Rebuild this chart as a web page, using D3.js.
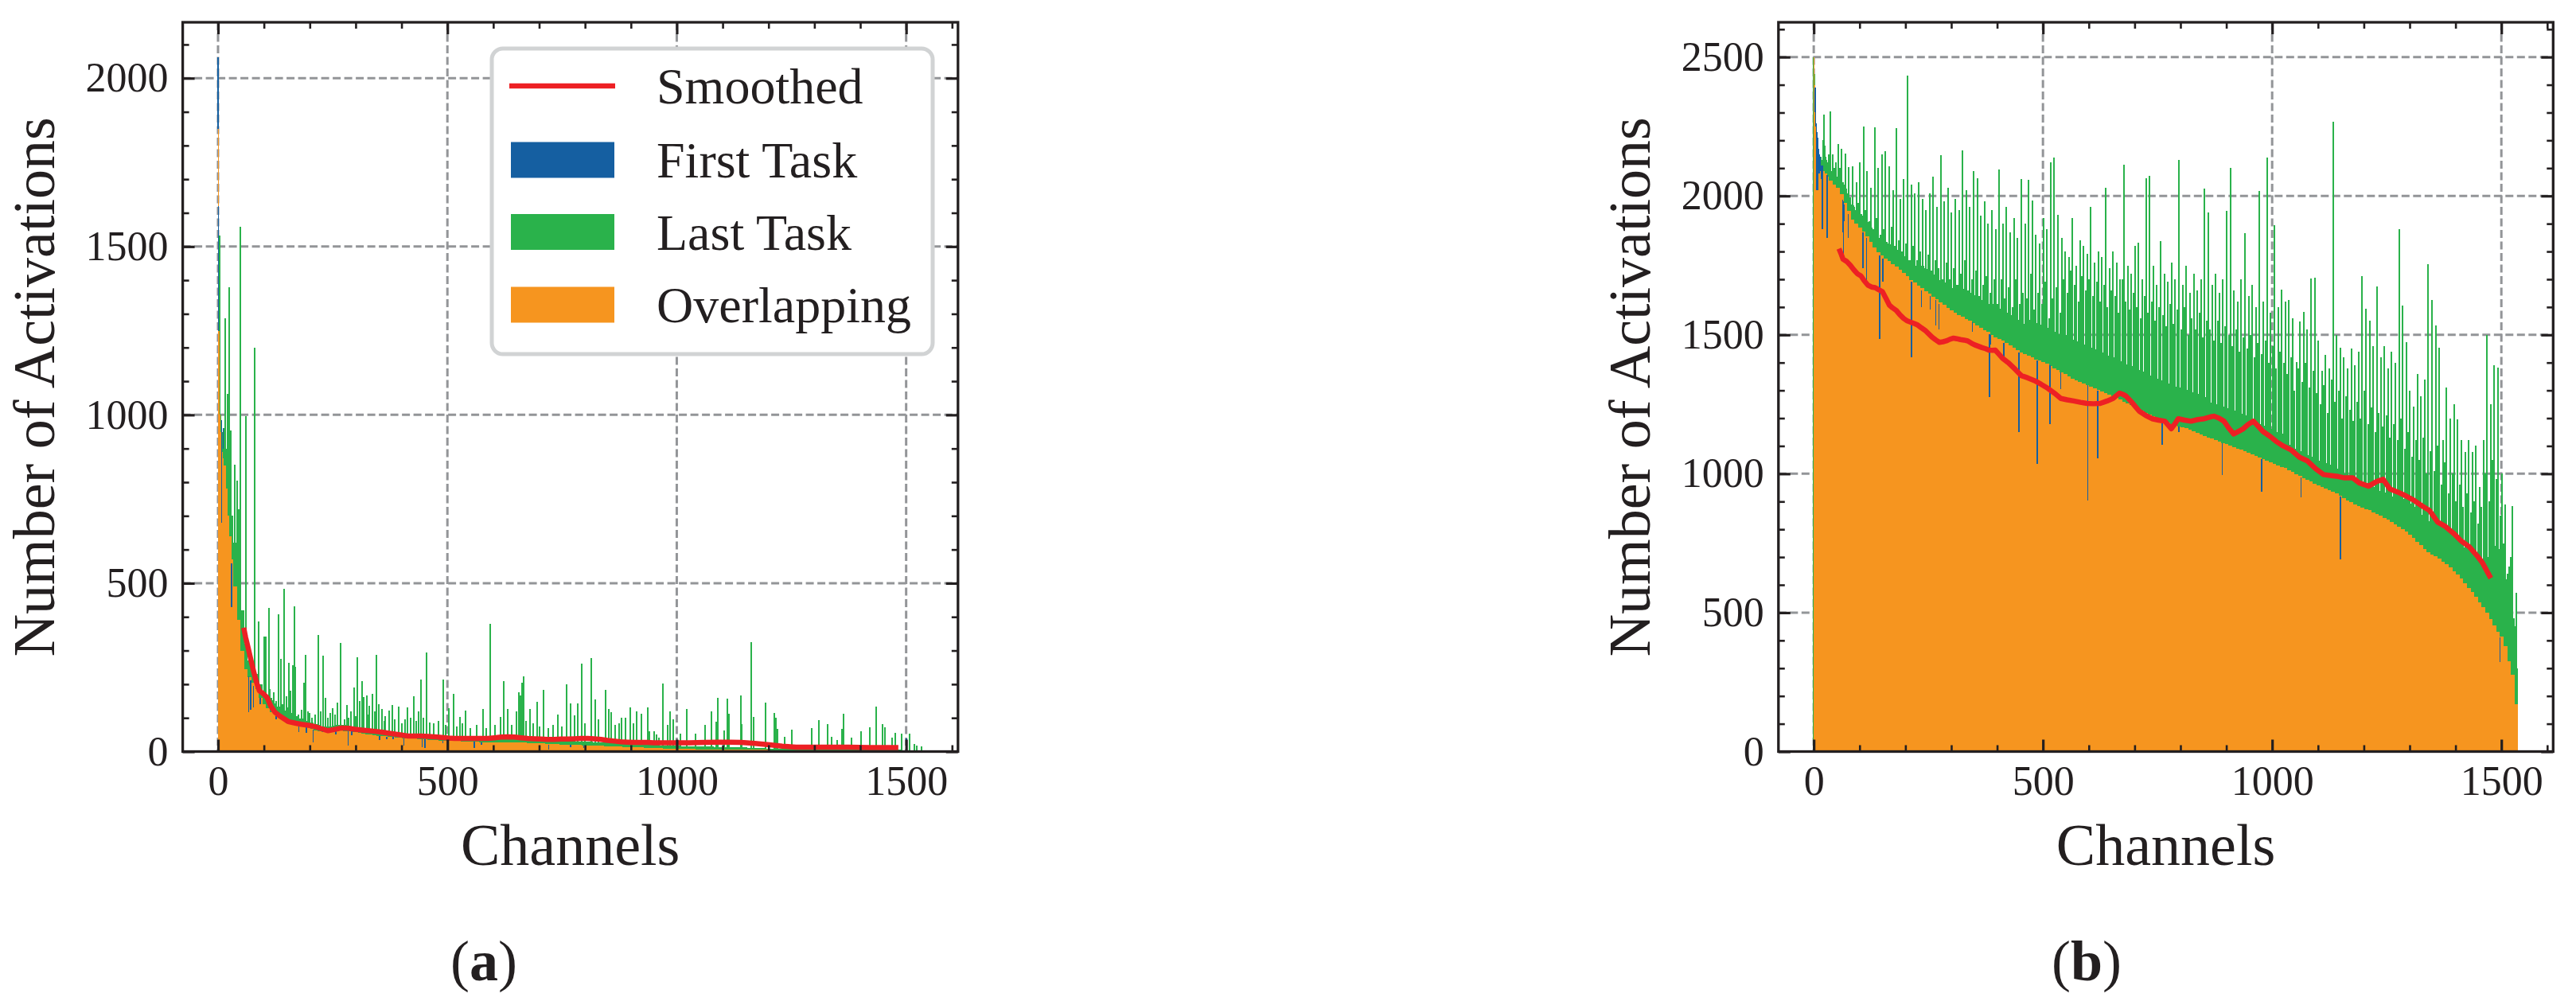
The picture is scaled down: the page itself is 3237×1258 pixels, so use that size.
<!DOCTYPE html>
<html>
<head>
<meta charset="utf-8">
<script src="https://cdn.jsdelivr.net/npm/d3@7"></script>
<style>
  body { margin: 0; background: #fff; }
  svg text { font-family: "Liberation Serif", "Times New Roman", serif; fill: #231f20; }
</style>
</head>
<body>
<script>
// ---- data ----
// channel bins: fine at the start, then 8 channels per bin
const binEdges = [0, 1, 2, 3, 4, 6, 8, 10, 12, 16, 20, 24, 28, 32, 40, 48, 56].concat(d3.range(64, 1537, 8));

const xTicks = [0, 500, 1000, 1500];
const yTicksA = [0, 500, 1000, 1500, 2000];
const yTicksB = [0, 500, 1000, 1500, 2000, 2500];
const legendLabels = ["Smoothed", "First Task", "Last Task", "Overlapping"];

// (a) overlapping activations per bin
const overlapA = [
  1850, 1250, 1050, 1000, 950, 920, 890, 870, 850, 780, 700, 640, 570, 490, 390, 300, 245,
  222, 205, 185, 160, 140, 128, 118, 110, 105, 101,
  98, 92, 88, 85, 81, 78, 74, 68, 63, 61,
  59, 58, 58, 59, 61, 62, 61, 60, 58, 57,
  55, 53, 51, 50, 48, 47, 46, 45, 44, 43,
  42, 41, 40, 39, 38, 38, 37, 37, 36, 35,
  34, 34, 33, 33, 32, 32, 31, 31, 30, 30,
  29, 29, 29, 28, 28, 28, 27, 27, 27, 27,
  26, 26, 26, 26, 26, 26, 25, 25, 25, 24,
  24, 23, 23, 22, 22, 21, 21, 20, 20, 19,
  19, 18, 18, 18, 17, 17, 17, 16, 16, 16,
  15, 15, 14, 14, 13, 13, 12, 12, 11, 11,
  10, 10, 10, 9, 9, 9, 9, 8, 8, 8,
  8, 8, 7, 7, 7, 7, 7, 6, 6, 6,
  6, 6, 6, 6, 5, 5, 5, 5, 5, 5,
  5, 5, 4, 4, 4, 4, 4, 4, 4, 4,
  4, 4, 4, 3, 3, 3, 3, 3, 3, 3,
  3, 3, 3, 3, 3, 3, 3, 2, 2, 2,
  2, 2, 2, 2, 2, 2, 2, 2, 2, 1,
  1, 1, 1, 1
];
// (a) last task, dense lower band per bin
const lastBaseA = [
  1850, 1250, 1100, 1050, 1000, 960, 950, 950, 960, 900, 900, 860, 700, 620, 520, 420, 320,
  270, 250, 230, 200, 180, 165, 152, 142, 134, 128,
  122, 114, 108, 104, 99, 95, 91, 86, 81, 78,
  75, 74, 74, 76, 78, 80, 79, 77, 75, 73,
  71, 69, 66, 65, 63, 62, 60, 59, 57, 56,
  55, 54, 53, 52, 51, 50, 50, 49, 48, 47,
  46, 45, 45, 44, 43, 43, 42, 42, 41, 41,
  40, 40, 40, 39, 39, 39, 38, 38, 38, 38,
  37, 37, 37, 37, 37, 36, 36, 36, 35, 35,
  35, 34, 34, 33, 33, 32, 32, 31, 31, 30,
  30, 29, 29, 29, 28, 28, 28, 27, 27, 26,
  24, 24, 23, 23, 22, 22, 21, 21, 20, 20,
  19, 19, 18, 18, 18, 17, 17, 17, 16, 16,
  16, 16, 15, 15, 15, 15, 15, 14, 14, 14,
  14, 14, 13, 13, 12, 12, 11, 11, 10, 10,
  10, 9, 9, 9, 9, 8, 8, 8, 8, 8,
  8, 8, 8, 7, 7, 7, 7, 7, 7, 7,
  7, 7, 7, 7, 6, 6, 6, 6, 6, 6,
  6, 6, 5, 5, 5, 5, 5, 5, 4, 4,
  4, 3, 3, 2
];
// (a) last task single-channel spikes [channel, value]
const spikesA = [
  [4, 1533], [15, 1287], [20, 1063], [24, 1379], [27, 954], [36, 853], [41, 805], [45, 720], [49, 1558],
  [60, 996], [80, 1200], [88, 387], [100, 342], [104, 342], [111, 426], [113, 185], [116, 160], [121, 176],
  [126, 150], [131, 408], [137, 275], [140, 140], [144, 484], [149, 164], [152, 130], [155, 263], [158, 180],
  [163, 257], [166, 432], [169, 251], [175, 110], [182, 125], [187, 204], [190, 287], [196, 120], [200, 115],
  [205, 100], [211, 111], [218, 346], [223, 120], [229, 285], [234, 160], [240, 100], [245, 115], [249, 129],
  [255, 110], [260, 145], [268, 322], [275, 95], [281, 138], [285, 100], [290, 120], [296, 190], [300, 105],
  [304, 280], [308, 150], [314, 210], [318, 162], [324, 167], [326, 110], [330, 137], [337, 171], [341, 120],
  [346, 287], [350, 140], [357, 126], [362, 90], [365, 105], [373, 121], [380, 139], [385, 95], [393, 133],
  [400, 85], [408, 95], [413, 130], [420, 100], [426, 164], [432, 90], [437, 120], [443, 214], [448, 100],
  [455, 294], [461, 86], [470, 85], [480, 90], [491, 214], [497, 80], [503, 129], [514, 171], [520, 75],
  [527, 103], [533, 85], [539, 122], [550, 70], [563, 80], [578, 126], [585, 70], [593, 379], [603, 80],
  [615, 103], [623, 209], [631, 126], [640, 80], [650, 119], [655, 176], [659, 166], [663, 204], [666, 223],
  [672, 90], [680, 126], [687, 85], [695, 148], [700, 75], [709, 184], [720, 70], [730, 80], [741, 109],
  [750, 75], [760, 200], [768, 143], [777, 107], [784, 143], [793, 261], [800, 85], [814, 278], [823, 155],
  [830, 95], [844, 184], [851, 126], [857, 117], [865, 80], [874, 83], [880, 100], [888, 101], [898, 131],
  [905, 85], [913, 119], [923, 113], [936, 131], [941, 60], [950, 60], [956, 50], [961, 42], [970, 202],
  [980, 79], [986, 119], [993, 96], [1008, 53], [1021, 126], [1041, 53], [1061, 79], [1076, 119], [1086, 89],
  [1090, 160], [1104, 62], [1111, 158], [1114, 113], [1139, 167], [1142, 81], [1163, 325], [1168, 103],
  [1193, 145], [1212, 115], [1216, 101], [1220, 67], [1236, 44], [1250, 65], [1295, 70], [1310, 93],
  [1328, 81], [1338, 44], [1349, 34], [1360, 67], [1363, 112], [1381, 41], [1401, 60], [1420, 72],
  [1434, 133], [1449, 81], [1454, 72], [1469, 41], [1476, 56], [1490, 53], [1501, 34], [1508, 53],
  [1518, 22], [1524, 18], [1534, 15]
];
// (a) first task where it rises above the overlap [channel, first task, overlap]
const firstA = [
  [0, 2063, 1850], [1, 1620, 1250], [8, 985, 680], [11, 960, 900], [29, 560, 430], [67, 223, 117],
  [71, 212, 125], [77, 195, 130], [92, 160, 140], [127, 106, 95], [148, 98, 85], [176, 78, 58],
  [193, 74, 55], [207, 66, 27], [257, 60, 50], [284, 60, 17], [291, 60, 48], [352, 47, 34], [368, 44, 36],
  [382, 43, 36], [405, 40, 17], [445, 37, 14], [451, 36, 10], [490, 33, 25], [559, 29, 10], [574, 28, 20],
  [721, 20, 7], [768, 20, 12], [797, 18, 10], [1501, 38, 3]
];
// (a) smoothed curve [channel, value]
const smoothA = [
  [56, 368], [60, 340], [66, 306], [72, 270], [78, 236], [84, 205], [90, 181], [100, 170], [107, 160],
  [115, 135], [124, 117], [135, 105], [153, 89], [170, 84], [182, 81], [197, 78], [211, 74], [225, 68],
  [240, 62], [255, 66], [269, 70], [284, 69], [298, 66], [313, 64], [327, 62], [342, 60], [356, 58],
  [370, 55], [385, 52], [400, 49], [414, 46], [428, 46], [443, 46], [458, 45], [472, 44], [487, 42],
  [501, 40], [516, 39], [530, 39], [545, 39], [559, 39], [574, 39], [588, 39], [603, 41], [617, 43],
  [632, 44], [646, 43], [660, 41], [675, 39], [690, 38], [704, 37], [718, 36], [733, 36], [748, 37],
  [762, 37], [777, 38], [791, 39], [806, 39], [820, 38], [835, 36], [849, 33], [864, 31], [878, 29],
  [893, 28], [907, 27], [922, 27], [936, 27], [950, 26], [965, 26], [1000, 26], [1028, 26], [1060, 27],
  [1090, 28], [1115, 28], [1140, 27], [1170, 24], [1202, 20], [1230, 16], [1260, 13], [1300, 13],
  [1340, 13], [1376, 13], [1420, 12], [1450, 12], [1483, 12]
];

// (b) overlapping activations per bin
const overlapB = [
  2500, 2400, 2330, 2290, 2250, 2200, 2150, 2120, 2100, 2095, 2088, 2080, 2070, 2055, 2040, 2030, 2005,
  1975, 1945, 1915, 1900, 1885, 1872, 1855, 1835, 1815, 1798,
  1785, 1775, 1765, 1755, 1745, 1735, 1722, 1710, 1698, 1688,
  1678, 1668, 1658, 1648, 1638, 1628, 1618, 1608, 1598, 1588,
  1580, 1572, 1565, 1557, 1550, 1542, 1534, 1526, 1518, 1510,
  1500, 1492, 1485, 1478, 1471, 1462, 1453, 1444, 1437, 1430,
  1424, 1418, 1412, 1407, 1402, 1396, 1388, 1380, 1372, 1365,
  1358, 1350, 1343, 1336, 1330, 1324, 1320, 1314, 1308, 1302,
  1296, 1290, 1284, 1278, 1272, 1266, 1260, 1254, 1248, 1240,
  1233, 1227, 1220, 1214, 1208, 1202, 1196, 1190, 1184, 1178,
  1173, 1169, 1166, 1163, 1158, 1152, 1147, 1142, 1136, 1131,
  1126, 1121, 1116, 1111, 1106, 1101, 1096, 1091, 1086, 1080,
  1075, 1069, 1064, 1058, 1053, 1047, 1041, 1036, 1030, 1025,
  1020, 1013, 1006, 999, 992, 985, 978, 971, 964, 957,
  952, 948, 942, 936, 928, 920, 912, 904, 897, 890,
  884, 878, 873, 868, 862, 856, 849, 842, 835, 827,
  819, 810, 800, 791, 781, 770, 756, 742, 728, 718,
  710, 702, 694, 684, 674, 663, 650, 636, 622, 605,
  590, 574, 557, 538, 520, 500, 478, 455, 432, 415,
  380, 325, 275, 170
];
// (b) last task, dense lower band per bin
const lastBaseB = [
  2500, 2420, 2350, 2300, 2260, 2230, 2180, 2150, 2140, 2130, 2120, 2110, 2100, 2090, 2080, 2070, 2050,
  2025, 1995, 1965, 1950, 1935, 1922, 1905, 1885, 1865, 1848,
  1845, 1835, 1825, 1815, 1805, 1795, 1782, 1770, 1758, 1748,
  1758, 1748, 1738, 1728, 1718, 1708, 1698, 1688, 1678, 1668,
  1680, 1672, 1665, 1657, 1650, 1642, 1634, 1626, 1618, 1610,
  1610, 1602, 1595, 1588, 1581, 1572, 1563, 1554, 1547, 1540,
  1554, 1548, 1542, 1537, 1532, 1526, 1518, 1510, 1502, 1495,
  1498, 1490, 1483, 1476, 1470, 1464, 1460, 1454, 1448, 1442,
  1436, 1430, 1424, 1418, 1412, 1406, 1400, 1394, 1388, 1380,
  1373, 1367, 1360, 1354, 1348, 1342, 1336, 1330, 1324, 1318,
  1313, 1309, 1306, 1303, 1298, 1292, 1287, 1282, 1276, 1271,
  1256, 1251, 1246, 1241, 1236, 1231, 1226, 1221, 1216, 1210,
  1195, 1189, 1184, 1178, 1173, 1167, 1161, 1156, 1150, 1145,
  1110, 1103, 1096, 1089, 1082, 1075, 1068, 1061, 1054, 1047,
  1042, 1038, 1032, 1026, 1018, 1010, 1002, 994, 987, 980,
  974, 968, 963, 958, 952, 946, 939, 932, 925, 917,
  929, 920, 910, 901, 891, 880, 866, 852, 838, 828,
  840, 832, 824, 814, 804, 793, 780, 766, 752, 735,
  740, 724, 707, 690, 690, 700, 720, 740, 730, 700,
  620, 560, 480, 300
];
// (b) last task, tallest spike in each bin
const lastPeakB = [
  2500, 2440, 2380, 2300, 2260, 2230, 2180, 2150, 2140, 2110, 2292, 2140, 2120, 2304, 2100, 2186, 2170,
  2153, 2105, 2108, 2050, 2120, 2251, 2090, 2030, 2248, 2101,
  2149, 2162, 2107, 2020, 2245, 1990, 2060, 2432, 2040, 2010,
  2050, 1990, 1950, 2010, 2070, 1960, 2146, 1980, 2030, 1940,
  1990, 1950, 2165, 2020, 1960, 2090, 2063, 1930, 1980, 1900,
  1950, 1880, 2094, 1900, 1960, 1870, 1920, 1850, 2062, 1900,
  2059, 1984, 1860, 1830, 1920, 1880, 2122, 2139, 1931, 1850,
  1800, 1780, 1921, 1750, 1841, 1820, 1792, 1960, 1760, 1800,
  1780, 2029, 1740, 1800, 1760, 1700, 2111, 1750, 1720, 1820,
  1831, 1700, 2063, 2073, 1750, 1680, 1836, 1720, 1690, 1760,
  1700, 2130, 1680, 1750, 1650, 1720, 1660, 1700, 2025, 1941,
  1680, 1720, 1650, 1700, 1946, 2101, 1660, 1620, 1700, 1866,
  1640, 1680, 1600, 2017, 1620, 2139, 1580, 1894, 1600, 1664,
  1620, 1626, 1560, 1403, 1548, 1582, 1520, 1703, 1707, 1480,
  1370, 1428, 1380, 2268, 1500, 1453, 1420, 1380, 1450, 1390,
  1440, 1710, 1593, 1550, 1460, 1674, 1420, 1460, 1380, 1440,
  1400, 1881, 1606, 1475, 1300, 1243, 1360, 1280, 1338, 1753,
  1625, 1534, 1454, 1120, 1311, 1200, 1250, 1197, 1120, 1078,
  1120, 1078, 1100, 952, 1120, 1499, 1250, 1391, 1383, 1000,
  890, 667, 885, 571
];
// (b) last task, second spike in each bin
const lastMidB = [
  2500, 2420, 2350, 2300, 2260, 2230, 2180, 2150, 2140, 2130, 2200, 2180, 2130, 2150, 2150, 2120, 2100,
  2040, 2010, 1970, 1960, 1975, 1930, 1950, 1910, 1880, 1920,
  1860, 1880, 1830, 1890, 1820, 1840, 1800, 1830, 1770, 1820,
  1770, 1800, 1740, 1790, 1730, 1770, 1740, 1700, 1760, 1700,
  1740, 1680, 1720, 1770, 1660, 1700, 1730, 1640, 1680, 1710,
  1650, 1700, 1610, 1700, 1630, 1670, 1600, 1700, 1610, 1650,
  1630, 1720, 1590, 1650, 1610, 1690, 1560, 1630, 1670, 1580,
  1700, 1650, 1730, 1680, 1620, 1710, 1660, 1700, 1640, 1690,
  1620, 1680, 1600, 1660, 1640, 1580, 1700, 1620, 1590, 1650,
  1600, 1560, 1640, 1580, 1620, 1550, 1600, 1570, 1530, 1610,
  1540, 1590, 1520, 1600, 1500, 1560, 1520, 1580, 1490, 1550,
  1520, 1480, 1550, 1470, 1530, 1500, 1460, 1520, 1440, 1490,
  1450, 1500, 1420, 1470, 1430, 1480, 1400, 1460, 1380, 1440,
  1400, 1360, 1420, 1300, 1380, 1330, 1400, 1310, 1370, 1290,
  1250, 1320, 1220, 1340, 1260, 1300, 1200, 1280, 1230, 1190,
  1260, 1200, 1300, 1180, 1240, 1150, 1220, 1170, 1210, 1130,
  1180, 1120, 1200, 1090, 1150, 1060, 1120, 1050, 1130, 1000,
  1080, 1010, 1100, 960, 1040, 930, 1000, 900, 960, 880,
  930, 860, 900, 820, 880, 1000, 900, 1050, 980, 850,
  750, 640, 700, 450
];
// (b) first task where it rises above the overlap [channel, first task, overlap]
const firstB = [
  [3, 2390, 2300], [4, 2380, 2250], [6, 2260, 2200], [7, 2230, 2020], [8, 2210, 2050], [9, 2200, 2020],
  [11, 2170, 2100], [12, 2150, 2080], [14, 2140, 2090], [17, 2110, 2060], [19, 2110, 1880], [29, 2075, 1850],
  [63, 1985, 1870], [64, 1980, 1870], [65, 1975, 1788], [66, 1970, 1910], [75, 1935, 1850], [107, 1870, 1740],
  [115, 1850, 1690], [144, 1785, 1485], [151, 1775, 1690], [213, 1692, 1418], [214, 1690, 1500],
  [235, 1660, 1600], [254, 1640, 1590], [266, 1625, 1535], [273, 1610, 1520], [346, 1545, 1510],
  [383, 1502, 1276], [385, 1500, 1465], [415, 1472, 1418], [448, 1437, 1150], [488, 1407, 1035],
  [515, 1390, 1180], [539, 1366, 1306], [598, 1318, 904], [620, 1300, 1055], [760, 1190, 1105],
  [797, 1169, 1150], [891, 1111, 994], [977, 1053, 934], [1063, 987, 914], [1149, 918, 693], [1497, 412, 322]
];
// (b) smoothed curve [channel, value]
const smoothB = [
  [55, 1810], [60, 1790], [64, 1772], [72, 1764], [80, 1750], [87, 1735], [95, 1720], [103, 1712],
  [110, 1695], [118, 1679], [126, 1672], [134, 1670], [142, 1662], [150, 1655], [158, 1630], [165, 1607],
  [172, 1597], [180, 1588], [188, 1572], [196, 1559], [204, 1550], [212, 1545], [220, 1540], [227, 1535],
  [235, 1525], [243, 1516], [250, 1505], [258, 1492], [266, 1482], [274, 1473], [282, 1475], [289, 1478],
  [297, 1484], [305, 1488], [312, 1486], [320, 1483], [328, 1481], [336, 1478], [344, 1470], [351, 1464],
  [359, 1459], [367, 1454], [375, 1450], [382, 1445], [390, 1444], [396, 1445], [404, 1430], [412, 1415],
  [425, 1399], [440, 1375], [453, 1353], [467, 1345], [482, 1335], [496, 1322], [510, 1308], [525, 1290],
  [539, 1271], [553, 1266], [567, 1262], [582, 1257], [596, 1253], [610, 1252], [625, 1253], [640, 1262],
  [653, 1271], [667, 1290], [674, 1286], [681, 1280], [695, 1255], [710, 1225], [724, 1210], [738, 1198],
  [752, 1193], [766, 1189], [780, 1162], [788, 1180], [795, 1198], [809, 1193], [823, 1189], [838, 1195],
  [852, 1198], [866, 1205], [873, 1207], [884, 1200], [895, 1189], [905, 1165], [916, 1143], [926, 1152],
  [937, 1162], [948, 1178], [959, 1189], [970, 1170], [980, 1152], [995, 1135], [1009, 1116], [1024, 1100],
  [1042, 1085], [1060, 1059], [1077, 1046], [1095, 1018], [1112, 997], [1129, 993], [1144, 990],
  [1158, 985], [1176, 985], [1190, 967], [1210, 955], [1228, 972], [1242, 980], [1257, 945], [1274, 934],
  [1292, 920], [1309, 905], [1326, 885], [1343, 868], [1361, 826], [1378, 810], [1396, 785], [1413, 757],
  [1430, 737], [1448, 703], [1459, 679], [1471, 642], [1477, 624]
];

// ---- drawing ----
const colors = { first: "#155fa1", last: "#2ab24b", overlap: "#f6951f", smooth: "#ed2024" };
const ink = "#231f20";

const svg = d3.select("body").append("svg")
  .attr("width", 3237)
  .attr("height", 1258);

const plotTop = 28, plotBottom = 944.5;

const panels = [
  { left: 229.6, right: 1203.8, yMax: 2166, yTicks: yTicksA, overlap: overlapA, base: lastBaseA,
    spikes: spikesA, first: firstA, smooth: smoothA, labelX: 68, tag: "a", tagX: 608, legend: true },
  { left: 2234.8, right: 3208.3, yMax: 2625, yTicks: yTicksB, overlap: overlapB, base: lastBaseB,
    peaks: [lastMidB, lastPeakB], first: firstB, smooth: smoothB, labelX: 2073, tag: "b", tagX: 2622, legend: false }
];

panels.forEach(p => {
  const x = d3.scaleLinear().domain([-77, 1613]).range([p.left, p.right]);
  const y = d3.scaleLinear().domain([0, p.yMax]).range([plotBottom, plotTop]);
  const g = svg.append("g");

  // grid below the bars
  const grid = g.append("g")
    .attr("stroke", "#939598")
    .attr("stroke-width", 3)
    .attr("stroke-dasharray", "10,4.5");
  grid.selectAll(".gx").data(xTicks).join("line")
    .attr("x1", d => x(d)).attr("x2", d => x(d))
    .attr("y1", plotTop).attr("y2", plotBottom);
  grid.selectAll(".gy").data(p.yTicks.filter(d => d > 0)).join("line")
    .attr("x1", p.left).attr("x2", p.right)
    .attr("y1", d => y(d)).attr("y2", d => y(d));

  const binX = i => x(binEdges[i] - 0.5);
  const binW = i => x(binEdges[i + 1] - 0.5) - x(binEdges[i] - 0.5);

  // last task: dense band
  g.append("g").attr("shape-rendering", "crispEdges")
    .selectAll("rect").data(p.base).join("rect")
    .attr("x", (d, i) => binX(i))
    .attr("width", (d, i) => binW(i) + 0.8)
    .attr("y", d => y(d))
    .attr("height", d => plotBottom - y(d))
    .attr("fill", colors.last);

  // last task: spikes
  let spikeList;
  if (p.spikes) {
    spikeList = p.spikes;
  } else {
    spikeList = [];
    p.peaks.forEach((arr, k) => arr.forEach((v, i) => {
      const w = binEdges[i + 1] - binEdges[i];
      spikeList.push([binEdges[i] + w * (k === 0 ? 0.2 : 0.65) - 0.5, v]);
    }));
  }
  g.append("g").attr("shape-rendering", "crispEdges")
    .selectAll("rect").data(spikeList).join("rect")
    .attr("x", d => x(d[0]) - 1)
    .attr("width", 2)
    .attr("y", d => y(d[1]))
    .attr("height", d => plotBottom - y(d[1]))
    .attr("fill", colors.last);

  // overlapping
  g.append("g").attr("shape-rendering", "crispEdges")
    .selectAll("rect").data(p.overlap).join("rect")
    .attr("x", (d, i) => binX(i))
    .attr("width", (d, i) => binW(i) + 0.8)
    .attr("y", d => y(d))
    .attr("height", d => plotBottom - y(d))
    .attr("fill", colors.overlap);

  // first task above the overlap
  g.append("g").attr("shape-rendering", "crispEdges")
    .selectAll("rect").data(p.first).join("rect")
    .attr("x", d => x(d[0]) - 0.8)
    .attr("width", 1.6)
    .attr("y", d => y(d[1]))
    .attr("height", d => y(d[2]) - y(d[1]))
    .attr("fill", colors.first);

  // smoothed
  g.append("path")
    .datum(p.smooth)
    .attr("d", d3.line().x(d => x(d[0])).y(d => y(d[1])))
    .attr("fill", "none")
    .attr("stroke", colors.smooth)
    .attr("stroke-width", 6.5)
    .attr("stroke-linejoin", "round");

  // frame
  g.append("rect")
    .attr("x", p.left).attr("y", plotTop)
    .attr("width", p.right - p.left).attr("height", plotBottom - plotTop)
    .attr("fill", "none").attr("stroke", ink).attr("stroke-width", 3.3);

  // ticks, inward on all sides
  const xMinor = d3.range(100, 1613, 100).filter(d => d % 500 !== 0);
  const yMinor = d3.range(100, p.yMax, 100).filter(d => d % 500 !== 0);
  const styleAxis = sel => {
    sel.select(".domain").remove();
    sel.attr("font-family", null).attr("font-size", 52).attr("color", ink);
    sel.selectAll(".tick line").attr("stroke-width", 3.2);
  };
  const styleMinor = sel => {
    sel.select(".domain").remove();
    sel.attr("color", ink);
    sel.selectAll(".tick line").attr("stroke-width", 2.6);
  };
  const fmt = d3.format("d");

  g.append("g").attr("transform", `translate(0,${plotBottom})`)
    .call(d3.axisBottom(x).tickValues(xTicks).tickFormat(fmt).tickSizeInner(-15).tickSizeOuter(0).tickPadding(18))
    .call(styleAxis);
  g.append("g").attr("transform", `translate(0,${plotBottom})`)
    .call(d3.axisBottom(x).tickValues(xMinor).tickSizeInner(-8).tickSizeOuter(0).tickFormat(""))
    .call(styleMinor);
  g.append("g").attr("transform", `translate(0,${plotTop})`)
    .call(d3.axisTop(x).tickValues(xTicks).tickSizeInner(-15).tickSizeOuter(0).tickFormat(""))
    .call(styleMinor).selectAll(".tick line").attr("stroke-width", 3.2);
  g.append("g").attr("transform", `translate(0,${plotTop})`)
    .call(d3.axisTop(x).tickValues(xMinor).tickSizeInner(-8).tickSizeOuter(0).tickFormat(""))
    .call(styleMinor);

  g.append("g").attr("transform", `translate(${p.left},0)`)
    .call(d3.axisLeft(y).tickValues(p.yTicks).tickFormat(fmt).tickSizeInner(-15).tickSizeOuter(0).tickPadding(18))
    .call(styleAxis);
  g.append("g").attr("transform", `translate(${p.left},0)`)
    .call(d3.axisLeft(y).tickValues(yMinor).tickSizeInner(-8).tickSizeOuter(0).tickFormat(""))
    .call(styleMinor);
  g.append("g").attr("transform", `translate(${p.right},0)`)
    .call(d3.axisRight(y).tickValues(p.yTicks).tickSizeInner(-15).tickSizeOuter(0).tickFormat(""))
    .call(styleMinor).selectAll(".tick line").attr("stroke-width", 3.2);
  g.append("g").attr("transform", `translate(${p.right},0)`)
    .call(d3.axisRight(y).tickValues(yMinor).tickSizeInner(-8).tickSizeOuter(0).tickFormat(""))
    .call(styleMinor);

  // axis labels
  g.append("text")
    .attr("transform", `translate(${p.labelX},${(plotTop + plotBottom) / 2}) rotate(-90)`)
    .attr("text-anchor", "middle")
    .attr("font-size", 74)
    .text("Number of Activations");
  g.append("text")
    .attr("x", (p.left + p.right) / 2)
    .attr("y", 1087)
    .attr("text-anchor", "middle")
    .attr("font-size", 74)
    .text("Channels");

  // sub caption
  const cap = g.append("text")
    .attr("x", p.tagX)
    .attr("y", 1232)
    .attr("text-anchor", "middle")
    .attr("font-size", 72);
  cap.append("tspan").text("(");
  cap.append("tspan").attr("font-weight", "bold").text(p.tag);
  cap.append("tspan").text(")");

  // legend
  if (p.legend) {
    const lg = g.append("g");
    lg.append("rect")
      .attr("x", 618).attr("y", 61)
      .attr("width", 554).attr("height", 384)
      .attr("rx", 14)
      .attr("fill", "white")
      .attr("stroke", "#d1d3d4")
      .attr("stroke-width", 5);
    const rowY = [108, 201, 291.5, 383];
    lg.append("line")
      .attr("x1", 640).attr("x2", 773)
      .attr("y1", rowY[0]).attr("y2", rowY[0])
      .attr("stroke", colors.smooth).attr("stroke-width", 6.5);
    const patchColors = [colors.first, colors.last, colors.overlap];
    lg.selectAll(".patch").data(patchColors).join("rect")
      .attr("x", 642).attr("width", 130)
      .attr("y", (d, i) => rowY[i + 1] - 22.5)
      .attr("height", 45)
      .attr("fill", d => d);
    lg.selectAll(".lab").data(legendLabels).join("text")
      .attr("x", 825)
      .attr("y", (d, i) => rowY[i] + 22)
      .attr("font-size", 64)
      .text(d => d);
  }
});
</script>
</body>
</html>
